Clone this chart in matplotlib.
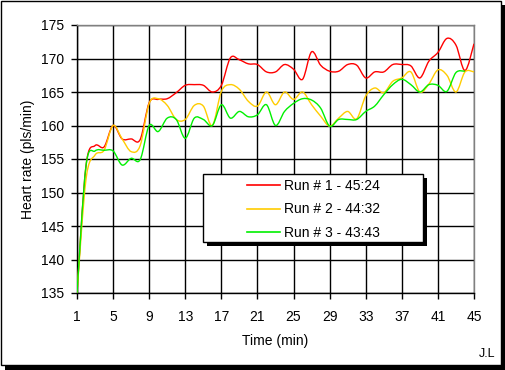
import numpy as np
import matplotlib
matplotlib.use("Agg")
import matplotlib.pyplot as plt
from matplotlib.path import Path
from matplotlib.patches import PathPatch, Rectangle
from matplotlib.lines import Line2D

plt.rcParams['font.family'] = ['Liberation Sans', 'DejaVu Sans']

"""Data read from the chart"""
minutes = list(range(1, 46))
run1 = [135, 154, 157, 156.8, 160, 158, 158, 157.9, 163.4, 163.9,
        164, 164.9, 166, 166.1, 166, 165, 166, 170.1, 169.8, 169.2,
        169.1, 168, 168, 169.1, 168.4, 166.9, 171, 169, 168.1, 168.1,
        169.1, 169, 167.1, 168, 168, 169.1, 169.1, 168.9, 167.1, 169.6,
        170.9, 173, 172, 168.2, 172.2]
run2 = [135, 152, 155.6, 156.3, 160, 158, 156.1, 157, 163.3, 164,
        163, 160.9, 160.9, 163, 162.9, 160, 165.1, 166.1, 165.4, 163.6,
        162.9, 165, 163.1, 165, 163.9, 165, 163.1, 161.4, 159.9, 161.1,
        162.1, 161, 164.4, 165.6, 164.9, 166.6, 167.1, 168, 165, 166.2,
        168.3, 167.5, 165, 168, 168]
run3 = [135, 154, 156.2, 156.3, 156.2, 154.1, 155.1, 154.9, 160, 159.1,
        161.1, 160.9, 158.1, 161.1, 160.9, 160, 163.1, 161.1, 162.1, 161.3,
        161.6, 163.1, 160, 162.1, 163.3, 164, 163.8, 162.6, 159.9, 160.9,
        160.9, 160.9, 162.1, 162.9, 164.6, 166.1, 166.9, 166.1, 165, 166.1,
        166, 165.1, 167.9, 168.1]
labels = ["Run # 1 - 45:24", "Run # 2 - 44:32", "Run # 3 - 43:43"]
colors = ["#ff0000", "#ffcc00", "#00f000"]

x_ticks = list(range(1, 46, 4))
y_ticks = list(range(135, 176, 5))

W, H = 506, 370


def fx(px):
    return px / W


def fy(py):
    return 1 - py / H


def smooth_path(xs, ys):
    # Excel style smoothed line: cubic Bezier segments through the points
    p = np.column_stack([xs, ys]).astype(float)
    n = len(p)
    verts = [p[0]]
    codes = [Path.MOVETO]
    for i in range(n - 1):
        a = p[i - 1] if i > 0 else p[i]
        b = p[i + 2] if i + 2 < n else p[i + 1]
        c1 = p[i] + (p[i + 1] - a) / 6
        c2 = p[i + 1] - (b - p[i]) / 6
        verts += [c1, c2, p[i + 1]]
        codes += [Path.CURVE4] * 3
    return Path(verts, codes)


fig = plt.figure(figsize=(W / 100, H / 100), dpi=100)

# outer frame with shadow
fig.add_artist(Rectangle((fx(5), 0), 1 - fx(5), fy(5), transform=fig.transFigure,
                         facecolor="black", edgecolor="none", zorder=-10))
fig.add_artist(Rectangle((fx(1), fy(365)), fx(500), fy(1) - fy(365),
                         transform=fig.transFigure, facecolor="white",
                         edgecolor="black", linewidth=1, zorder=-9))

ax = fig.add_axes([fx(77), fy(293), fx(474 - 77), fy(25) - fy(293)])
ax.set_xlim(1, 45)
ax.set_ylim(135, 175)
ax.set_xticks(x_ticks)
ax.set_yticks(y_ticks)
ax.grid(True, color="black", linewidth=1)
ax.tick_params(direction="out", length=4, width=1, color="black",
               labelsize=10)
ax.tick_params(axis="y", pad=5)
ax.tick_params(axis="x", pad=8)
for s in ["left", "bottom"]:
    ax.spines[s].set_color("black")
    ax.spines[s].set_linewidth(1)
for s in ["top", "right"]:
    ax.spines[s].set_color("#808080")
    ax.spines[s].set_linewidth(1)

for ys, c in zip([run1, run2, run3], colors):
    xs = minutes[:len(ys)]
    ax.add_patch(PathPatch(smooth_path(xs, ys), facecolor="none",
                           edgecolor=c, linewidth=1.0, zorder=3))

fig.text(fx(28), fy(159), "Heart rate (pls/min)", rotation=90,
         ha="center", va="center", fontsize=10)
fig.text(fx(275.5), fy(341), "Time (min)", ha="center", va="center",
         fontsize=10)
fig.text(fx(495), fy(354), "J.L", ha="right", va="center", fontsize=9)

# legend box with shadow
fig.add_artist(Rectangle((fx(207), fy(246)), fx(220), fy(178) - fy(246),
                         transform=fig.transFigure, facecolor="black",
                         edgecolor="none", zorder=4))
fig.add_artist(Rectangle((fx(203), fy(242)), fx(220), fy(174) - fy(242),
                         transform=fig.transFigure, facecolor="white",
                         edgecolor="black", linewidth=1, zorder=4.1))
handles = [Line2D([], [], color=c, linewidth=1.2) for c in colors]
fig.legend(handles, labels, loc="upper left",
           bbox_to_anchor=(fx(247), fy(179)), frameon=False,
           fontsize=10, borderpad=0, borderaxespad=0, handlelength=2.4,
           handletextpad=0.3, labelspacing=0.68)

fig.savefig("out.png", dpi=100)
